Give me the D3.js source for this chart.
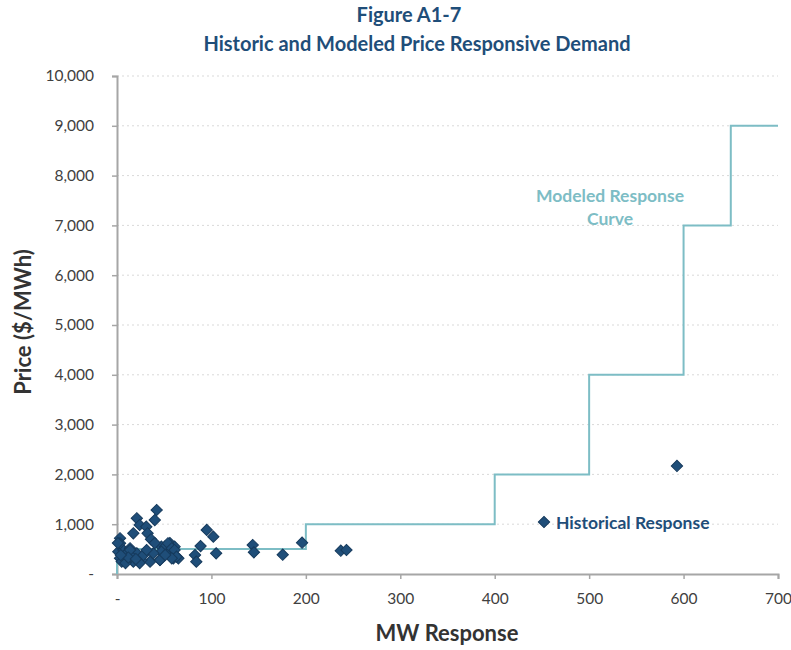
<!DOCTYPE html>
<html>
<head>
<meta charset="utf-8">
<script src="https://cdn.jsdelivr.net/npm/d3@7"></script>
<style>
  body { margin: 0; background: #fff; }
  svg { font-family: Lato, "Open Sans", sans-serif; }
</style>
</head>
<body>
<svg width="791" height="650"></svg>
<script>
// modeled step curve (stepAfter)
var curveMW    = [0, 0, 200, 400, 500, 600, 650, 700];
var curvePrice = [0, 500, 1000, 2000, 4000, 7000, 9000, 9000];

// historical response points
var histMW = [593, 95, 102, 88.5, 82.6, 84, 105, 143.7, 145, 175.5, 196, 237, 243,
  42, 40, 21, 24, 31, 17.3, 32.4, 36, 3.2, 45.5, 47, 50.8, 56, 61, 54, 59.7, 65,
  54, 58, 61, 63, 58, 47, 38.5, 35, 26, 17.3, 10, 3.2, 1.4, 6.7, 13.8, 21, 28,
  15.5, 8.5, 3.2, 31.4, 24, 45.5, 51, 1, 40, 13.8, 5, 9, 12, 20, 4];
var histPrice = [2170, 884, 750, 562, 381, 248, 415, 582, 435, 388, 629, 468, 482,
  1285, 1084, 1118, 984, 950, 817, 817, 697, 717, 281, 549, 549, 620, 549, 415, 315, 315,
  616, 516, 482, 348, 315, 448, 415, 248, 281, 248, 281, 315, 448, 482, 516, 415, 382,
  348, 382, 616, 482, 220, 281, 382, 620, 620, 482, 250, 220, 330, 300, 380];

var xTicks = [0, 100, 200, 300, 400, 500, 600, 700];
var yTicks = [0, 1000, 2000, 3000, 4000, 5000, 6000, 7000, 8000, 9000, 10000];

var navy = '#1F4E79', teal = '#7DBDC5', axisGray = '#A6A6A6', textGray = '#404040';

var svg = d3.select('svg');
var margin = {left: 117, right: 13, top: 76, bottom: 76};
var width = +svg.attr('width'), height = +svg.attr('height');
var innerwidth = width - margin.left - margin.right;
var innerheight = height - margin.top - margin.bottom;

var xscale = d3.scaleLinear().domain([0, 700]).range([0, innerwidth]);
var yscale = d3.scaleLinear().domain([0, 10000]).range([innerheight, 0]);

var fmt = d => d === 0 ? '-' : d3.format(',')(d);

// titles
svg.append('text').attr('x', 409).attr('y', 22).attr('text-anchor', 'middle')
  .attr('font-size', 20).attr('font-weight', 'bold').attr('fill', navy).text('Figure A1-7');
svg.append('text').attr('x', 417).attr('y', 51).attr('text-anchor', 'middle')
  .attr('font-size', 20).attr('font-weight', 'bold').attr('fill', navy)
  .text('Historic and Modeled Price Responsive Demand');

var g = svg.append('g').attr('transform', `translate(${margin.left},${margin.top})`);

// gridlines
g.append('g').selectAll('line').data(yTicks.filter(d => d > 0)).enter().append('line')
  .attr('x1', 0).attr('x2', innerwidth)
  .attr('y1', d => yscale(d)).attr('y2', d => yscale(d))
  .attr('stroke', '#D9D9D9').attr('stroke-width', 1).attr('stroke-dasharray', '2,3');

// axes
var yaxis = g.append('g').call(d3.axisLeft(yscale).tickValues(yTicks).tickFormat(fmt).tickSize(5).tickPadding(18));
var xaxis = g.append('g').attr('transform', `translate(0,${innerheight})`)
  .call(d3.axisBottom(xscale).tickValues(xTicks).tickFormat(fmt).tickSize(5).tickPadding(14));
[yaxis, xaxis].forEach(a => {
  a.select('.domain').attr('stroke', axisGray).attr('stroke-width', 2);
  a.selectAll('.tick line').attr('stroke', axisGray).attr('stroke-width', 1.5);
  a.selectAll('.tick text').attr('fill', textGray).attr('font-size', 15.5)
    .attr('font-family', 'Lato, "Open Sans", sans-serif');
});

// modeled curve
var curvePts = curveMW.map((d, i) => [d, curvePrice[i]]);
g.append('path').datum(curvePts)
  .attr('fill', 'none').attr('stroke', teal).attr('stroke-width', 2)
  .attr('d', d3.line().x(d => xscale(d[0])).y(d => yscale(d[1])).curve(d3.curveStepAfter));

// historical points
var diamond = d3.symbol().type(d3.symbolSquare).size(64);
g.append('g').selectAll('path').data(histMW.map((d, i) => [d, histPrice[i]])).enter().append('path')
  .attr('d', diamond)
  .attr('transform', d => `translate(${xscale(d[0])},${yscale(d[1])}) rotate(45)`)
  .attr('fill', navy).attr('stroke', '#163A5C').attr('stroke-width', 1);

// series labels
var ml = svg.append('text').attr('text-anchor', 'middle').attr('font-size', 17.5)
  .attr('font-weight', 'bold').attr('fill', teal);
ml.append('tspan').attr('x', 610).attr('y', 202).text('Modeled Response');
ml.append('tspan').attr('x', 610).attr('y', 225).text('Curve');

svg.append('path').attr('d', diamond)
  .attr('transform', 'translate(544,522) rotate(45)')
  .attr('fill', navy).attr('stroke', '#163A5C');
svg.append('text').attr('x', 556).attr('y', 529).attr('font-size', 17.5)
  .attr('font-weight', 'bold').attr('fill', navy).text('Historical Response');

// axis titles
svg.append('text').attr('x', 447).attr('y', 641).attr('text-anchor', 'middle')
  .attr('font-size', 22).attr('font-weight', 'bold').attr('fill', '#333').text('MW Response');
svg.append('text').attr('transform', 'translate(31,322) rotate(-90)').attr('text-anchor', 'middle')
  .attr('font-size', 22).attr('font-weight', 'bold').attr('fill', '#333').text('Price ($/MWh)');
</script>
</body>
</html>
